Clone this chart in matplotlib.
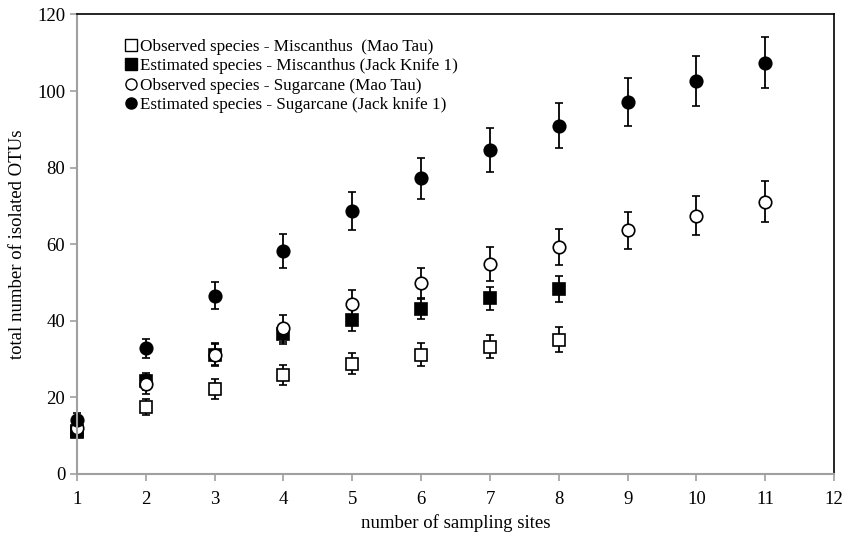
import matplotlib.pyplot as plt
from matplotlib.lines import Line2D

# Data
sites_misc = [1, 2, 3, 4, 5, 6, 7, 8]
sites_sug = [1, 2, 3, 4, 5, 6, 7, 8, 9, 10, 11]

obs_misc = [11.0, 17.6, 22.2, 25.9, 28.8, 31.2, 33.2, 35.1]
obs_misc_err = [1.0, 2.1, 2.5, 2.6, 2.7, 2.9, 3.0, 3.2]

est_misc = [11.2, 24.2, 31.2, 36.5, 40.2, 43.2, 45.9, 48.3]
est_misc_err = [1.0, 2.2, 2.8, 2.6, 2.8, 2.8, 3.0, 3.4]

obs_sug = [12.0, 23.4, 31.2, 38.0, 44.3, 49.8, 54.8, 59.3, 63.6, 67.5, 71.1]
obs_sug_err = [1.2, 2.4, 2.9, 3.5, 3.7, 4.0, 4.4, 4.6, 4.9, 5.1, 5.3]

est_sug = [14.0, 32.8, 46.6, 58.3, 68.6, 77.2, 84.6, 91.0, 97.1, 102.6, 107.4]
est_sug_err = [2.0, 2.4, 3.6, 4.5, 5.0, 5.4, 5.7, 6.0, 6.2, 6.5, 6.7]

labels = ['Observed species - Miscanthus  (Mao Tau)',
          'Estimated species - Miscanthus (Jack Knife 1)',
          'Observed species - Sugarcane (Mao Tau)',
          'Estimated species - Sugarcane (Jack knife 1)']

plt.rcParams['font.family'] = ['Liberation Serif', 'DejaVu Serif']

fig = plt.figure(figsize=(8.46, 5.36), dpi=100)
ax = fig.add_axes([0.091, 0.1157, 0.895, 0.8573])

common = dict(linestyle='none', ecolor='black', elinewidth=1.3, capsize=3,
              capthick=1.3, markersize=9, markeredgewidth=1.2, markeredgecolor='black')

series = [
    (sites_misc, obs_misc, obs_misc_err, 's', 'white'),
    (sites_misc, est_misc, est_misc_err, 's', 'black'),
    (sites_sug, obs_sug, obs_sug_err, 'o', 'white'),
    (sites_sug, est_sug, est_sug_err, 'o', 'black'),
]
for xs, ys, errs, mk, fc in series:
    cont = ax.errorbar(xs, ys, yerr=errs, marker=mk, markerfacecolor=fc, **common)
    for art in cont.get_children():
        art.set_clip_on(False)

ax.set_xlim(1, 12)
ax.set_ylim(0, 120)
ax.set_xticks(range(1, 13))
ax.set_yticks(range(0, 121, 20))

ax.spines['left'].set_color('#a0a0a0')
ax.spines['bottom'].set_color('#a0a0a0')
ax.spines['left'].set_linewidth(1.5)
ax.spines['bottom'].set_linewidth(1.5)
ax.spines['top'].set_linewidth(1.2)
ax.spines['right'].set_linewidth(1.2)
ax.tick_params(axis='both', colors='#a0a0a0', labelcolor='black', labelsize=13.5, length=5, width=1.2)
ax.tick_params(axis='x', pad=7)

ax.set_xlabel('number of sampling sites', fontsize=13.5, labelpad=5)
ax.set_ylabel('total number of isolated OTUs', fontsize=13.5, labelpad=8)

handles = [
    Line2D([], [], linestyle='none', marker='s', markersize=8, markerfacecolor='white', markeredgecolor='black'),
    Line2D([], [], linestyle='none', marker='s', markersize=8, markerfacecolor='black', markeredgecolor='black'),
    Line2D([], [], linestyle='none', marker='o', markersize=8, markerfacecolor='white', markeredgecolor='black'),
    Line2D([], [], linestyle='none', marker='o', markersize=8, markerfacecolor='black', markeredgecolor='black'),
]
ax.legend(handles, labels, loc='upper left', bbox_to_anchor=(0.055, 0.962), frameon=False, fontsize=12.3,
          handlelength=0.6, handletextpad=0.25, labelspacing=0.2, borderaxespad=0)

fig.savefig('out.png', dpi=100)
